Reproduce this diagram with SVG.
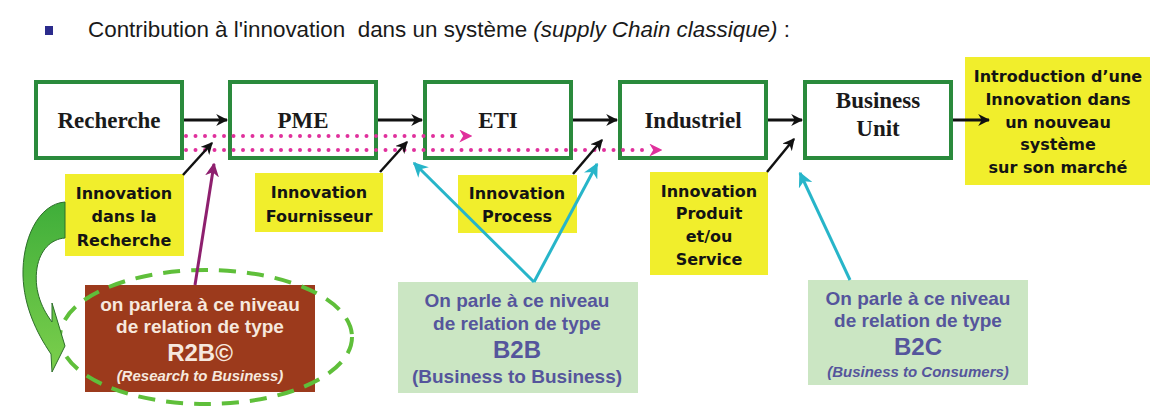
<svg xmlns="http://www.w3.org/2000/svg" width="1156" height="408" viewBox="0 0 1156 408">
  <style>
    .stage { fill: #ffffff; stroke: #2a8a3c; stroke-width: 4; }
    .stage-label { font-family: "Liberation Serif", serif; font-weight: bold; font-size: 23px; fill: #1a1a1a; text-anchor: middle; }
    .note { fill: #f1ee2c; }
    .note-text { font-family: "DejaVu Sans", sans-serif; font-weight: bold; font-size: 16px; fill: #141414; text-anchor: middle; }
    .rel-text { font-family: "Liberation Sans", Arial, sans-serif; font-weight: bold; font-size: 19px; text-anchor: middle; }
    .rel-big { font-size: 24px; }
    .rel-small { font-size: 15px; font-style: italic; }
    .r2b { fill: #f6e8de; }
    .bx { fill: #55559c; }
    .flow { stroke: #111111; stroke-width: 3; fill: none; }
    .feed { stroke: #111111; stroke-width: 2.5; fill: none; }
    .dots { stroke: #e0309c; stroke-width: 4; stroke-linecap: round; stroke-dasharray: 0 9.5; fill: none; }
    .cyan { stroke: #27b5c9; stroke-width: 3; fill: none; }
  </style>
  <defs>
    <marker id="ah-black" viewBox="0 0 10 10" refX="9" refY="5" markerWidth="12" markerHeight="12" markerUnits="userSpaceOnUse" orient="auto">
      <path d="M0,0 L10,5 L0,10 L3,5 Z" fill="#111111"/>
    </marker>
    <marker id="ah-pink" viewBox="0 0 10 10" refX="9" refY="5" markerWidth="13" markerHeight="13" markerUnits="userSpaceOnUse" orient="auto">
      <path d="M0,0 L10,5 L0,10 L3,5 Z" fill="#e0309c"/>
    </marker>
    <marker id="ah-purple" viewBox="0 0 10 10" refX="9" refY="5" markerWidth="14" markerHeight="14" markerUnits="userSpaceOnUse" orient="auto">
      <path d="M0,0 L10,5 L0,10 L3,5 Z" fill="#8e1f6e"/>
    </marker>
    <marker id="ah-cyan" viewBox="0 0 10 10" refX="9" refY="5" markerWidth="15" markerHeight="15" markerUnits="userSpaceOnUse" orient="auto">
      <path d="M0,0 L10,5 L0,10 L3,5 Z" fill="#27b5c9"/>
    </marker>
    <linearGradient id="curve-fill" x1="0" y1="0" x2="0" y2="1">
      <stop offset="0" stop-color="#3fae3a"/>
      <stop offset="1" stop-color="#7ccf4c"/>
    </linearGradient>
  </defs>

  <rect width="1156" height="408" fill="#ffffff"/>

  <!-- heading -->
  <g id="heading">
    <rect x="45" y="26" width="8" height="9" fill="#2b2b8c"/>
    <text x="88" y="37" font-family="Liberation Sans, Arial, sans-serif" font-size="22" fill="#1a1a1a" textLength="702" lengthAdjust="spacingAndGlyphs" xml:space="preserve">Contribution à l'innovation  dans un système <tspan font-style="italic">(supply Chain classique)</tspan> :</text>
  </g>

  <!-- supply chain stages -->
  <g id="recherche">
    <rect class="stage" x="36" y="82" width="146" height="76"/>
    <text class="stage-label" x="109" y="128">Recherche</text>
  </g>
  <g id="pme">
    <rect class="stage" x="230" y="82" width="146" height="76"/>
    <text class="stage-label" x="303" y="128">PME</text>
  </g>
  <g id="eti">
    <rect class="stage" x="425" y="82" width="146" height="76"/>
    <text class="stage-label" x="498" y="128">ETI</text>
  </g>
  <g id="industriel">
    <rect class="stage" x="620" y="82" width="146" height="76"/>
    <text class="stage-label" x="693" y="128">Industriel</text>
  </g>
  <g id="business-unit">
    <rect class="stage" x="805" y="82" width="146" height="76"/>
    <text class="stage-label" x="878" y="108">Business</text>
    <text class="stage-label" x="878" y="136">Unit</text>
  </g>
  <g id="introduction">
    <rect class="note" x="965" y="57" width="185" height="128"/>
    <text class="note-text" x="1058" y="82">Introduction d’une</text>
    <text class="note-text" x="1058" y="105">Innovation dans</text>
    <text class="note-text" x="1058" y="128">un nouveau</text>
    <text class="note-text" x="1058" y="150">système</text>
    <text class="note-text" x="1058" y="173">sur son marché</text>
  </g>

  <!-- innovation labels -->
  <g id="innov-recherche">
    <rect class="note" x="65" y="174" width="119" height="82"/>
    <text class="note-text" x="124" y="199">Innovation</text>
    <text class="note-text" x="124" y="222">dans la</text>
    <text class="note-text" x="124" y="246">Recherche</text>
  </g>
  <g id="innov-fournisseur">
    <rect class="note" x="255" y="173" width="128" height="59"/>
    <text class="note-text" x="319" y="198">Innovation</text>
    <text class="note-text" x="319" y="222">Fournisseur</text>
  </g>
  <g id="innov-process">
    <rect class="note" x="458" y="175" width="119" height="58"/>
    <text class="note-text" x="517" y="199">Innovation</text>
    <text class="note-text" x="517" y="222">Process</text>
  </g>
  <g id="innov-produit">
    <rect class="note" x="650" y="172" width="118" height="103"/>
    <text class="note-text" x="709" y="197">Innovation</text>
    <text class="note-text" x="709" y="219">Produit</text>
    <text class="note-text" x="709" y="242">et/ou</text>
    <text class="note-text" x="709" y="265">Service</text>
  </g>

  <!-- relation boxes -->
  <g id="relation-r2b">
    <rect x="85" y="285" width="230" height="107" fill="#9c3a1c"/>
    <text class="rel-text r2b" x="200" y="311">on parlera à ce niveau</text>
    <text class="rel-text r2b" x="200" y="333">de relation de type</text>
    <text class="rel-text rel-big r2b" x="200" y="361">R2B©</text>
    <text class="rel-text rel-small r2b" x="200" y="381">(Research to Business)</text>
    <ellipse cx="206" cy="337" rx="146" ry="67" fill="none" stroke="#5fbf3a" stroke-width="4" stroke-dasharray="17 11"/>
  </g>
  <g id="relation-b2b">
    <rect x="398" y="282" width="240" height="111" fill="#cbe6c3"/>
    <text class="rel-text bx" x="517" y="307">On parle à ce niveau</text>
    <text class="rel-text bx" x="517" y="330">de relation de type</text>
    <text class="rel-text rel-big bx" x="517" y="358">B2B</text>
    <text class="rel-text bx" x="517" y="383">(Business to Business)</text>
  </g>
  <g id="relation-b2c">
    <rect x="808" y="280" width="220" height="105" fill="#cbe6c3"/>
    <text class="rel-text bx" x="918" y="305">On parle à ce niveau</text>
    <text class="rel-text bx" x="918" y="327">de relation de type</text>
    <text class="rel-text rel-big bx" x="918" y="355">B2C</text>
    <text class="rel-text rel-small bx" x="918" y="377">(Business to Consumers)</text>
  </g>

  <!-- connectors -->
  <g id="connectors">
    <!-- chain flow -->
    <line class="flow" x1="184" y1="120" x2="227" y2="120" marker-end="url(#ah-black)"/>
    <line class="flow" x1="378" y1="120" x2="422" y2="120" marker-end="url(#ah-black)"/>
    <line class="flow" x1="573" y1="120" x2="617" y2="120" marker-end="url(#ah-black)"/>
    <line class="flow" x1="768" y1="120" x2="802" y2="120" marker-end="url(#ah-black)"/>
    <line class="flow" x1="953" y1="120" x2="989" y2="120" marker-end="url(#ah-black)"/>

    <!-- knowledge transfer (dotted) -->
    <line class="dots" x1="186" y1="136" x2="460" y2="136"/>
    <line x1="455" y1="136" x2="471" y2="136" stroke="none" marker-end="url(#ah-pink)"/>
    <line class="dots" x1="186" y1="150" x2="650" y2="150"/>
    <line x1="645" y1="150" x2="661" y2="150" stroke="none" marker-end="url(#ah-pink)"/>

    <!-- innovation inputs -->
    <line class="feed" x1="183" y1="175" x2="212" y2="143" marker-end="url(#ah-black)"/>
    <line class="feed" x1="380" y1="172" x2="407" y2="142" marker-end="url(#ah-black)"/>
    <line class="feed" x1="573" y1="174" x2="602" y2="140" marker-end="url(#ah-black)"/>
    <line class="feed" x1="767" y1="172" x2="794" y2="139" marker-end="url(#ah-black)"/>

    <!-- R2B link -->
    <line x1="195" y1="285" x2="214" y2="164" stroke="#8e1f6e" stroke-width="3" marker-end="url(#ah-purple)"/>

    <!-- B2B / B2C links -->
    <line class="cyan" x1="534" y1="282" x2="414" y2="163" marker-end="url(#ah-cyan)"/>
    <line class="cyan" x1="534" y1="282" x2="597" y2="164" marker-end="url(#ah-cyan)"/>
    <line class="cyan" x1="850" y1="280" x2="800" y2="173" marker-end="url(#ah-cyan)"/>

    <!-- curved arrow from research innovation to R2B -->
    <path d="M65,202 C38,204 22,240 23,276 C24,306 36,332 51,354 L52,372 L65,346 L52,303 L52,322 C40,306 34,288 37,268 C40,250 51,239 65,238 Z" fill="url(#curve-fill)" stroke="#2d6e2a" stroke-width="1"/>
  </g>
</svg>
